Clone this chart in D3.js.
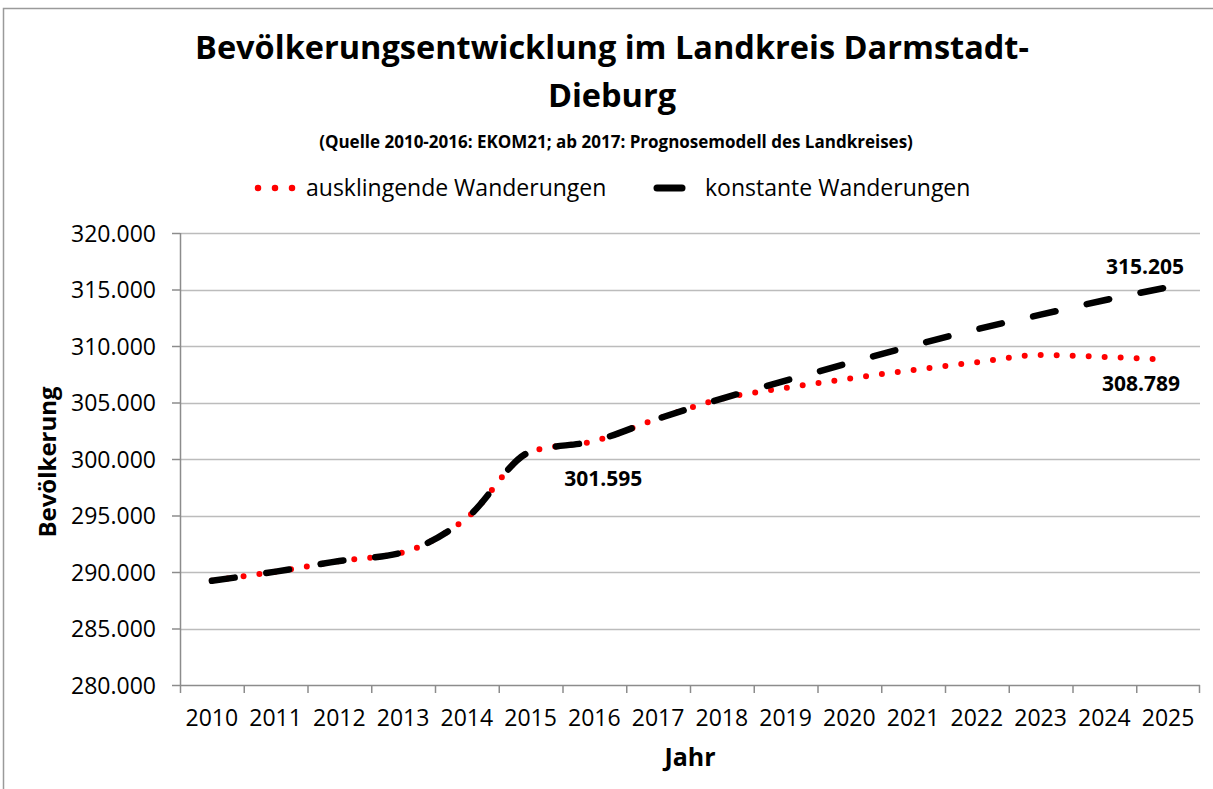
<!DOCTYPE html>
<html>
<head>
<meta charset="utf-8">
<script src="https://cdnjs.cloudflare.com/ajax/libs/d3/7.8.5/d3.min.js"></script>
<style>
  body { margin: 0; background: #fff; }
  svg { display: block; }
  text { font-family: "Open Sans", sans-serif; fill: #000; }
</style>
</head>
<body>
<div id="viz"></div>
<script>
// data
var years = ["2010","2011","2012","2013","2014","2015","2016","2017","2018","2019","2020","2021","2022","2023","2024","2025"];
var konstante = [289230, 290030, 290970, 291740, 294800, 300650, 301595, 303570, 305340, 306930, 308500, 310030, 311480, 312770, 314050, 315205];
var ausklingend = [289230, 290030, 290970, 291740, 294800, 300650, 301595, 303570, 305340, 306290, 307110, 307880, 308560, 309200, 309030, 308789];
var yTicks = [280000, 285000, 290000, 295000, 300000, 305000, 310000, 315000, 320000];
var seriesNames = ["ausklingende Wanderungen", "konstante Wanderungen"];

var W = 1213, H = 789;
var margin = {top: 233, right: 13, bottom: 104, left: 180},
    width = W - margin.left - margin.right,
    height = H - margin.top - margin.bottom;

var de = d3.formatLocale({decimal: ",", thousands: ".", grouping: [3], currency: ["", " €"]});
var fmt = de.format(",d");

var svg = d3.select("#viz").append("svg").attr("width", W).attr("height", H);

// chart border
svg.append("rect")
    .attr("x", 3.5).attr("y", 8.5)
    .attr("width", W + 10).attr("height", H + 10)
    .style("fill", "none").style("stroke", "#9a9a9a").style("stroke-width", 1.5);

// title
svg.append("text").attr("x", 612).attr("y", 59)
    .style("font-size", "32.5px").style("font-weight", "bold").style("text-anchor", "middle")
    .text("Bevölkerungsentwicklung im Landkreis Darmstadt-");
svg.append("text").attr("x", 612).attr("y", 107)
    .style("font-size", "32.5px").style("font-weight", "bold").style("text-anchor", "middle")
    .text("Dieburg");
svg.append("text").attr("x", 616).attr("y", 148)
    .style("font-size", "17px").style("font-weight", "bold").style("text-anchor", "middle")
    .text("(Quelle 2010-2016: EKOM21; ab 2017: Prognosemodell des Landkreises)");

var x = d3.scaleBand().domain(years).range([0, width]).padding(0);
var y = d3.scaleLinear().domain([280000, 320000]).range([height, 0]);
var cx = function(d, i) { return x(years[i]) + x.bandwidth() / 2; };

var g = svg.append("g").attr("transform", "translate(" + margin.left + "," + margin.top + ")");

// gridlines
g.append("g").selectAll("line").data(yTicks.slice(1)).enter().append("line")
    .attr("x1", 0).attr("x2", width)
    .attr("y1", function(d) { return Math.round(y(d)) + 0.5; })
    .attr("y2", function(d) { return Math.round(y(d)) + 0.5; })
    .style("stroke", "#bcbcbc").style("stroke-width", 1.5);

// y axis
var yAxis = d3.axisLeft(y).tickValues(yTicks).tickFormat(fmt).tickSize(8).tickPadding(16);
var ya = g.append("g").attr("class", "axis").call(yAxis);
ya.select(".domain").style("stroke", "#8c8c8c").style("stroke-width", 1.5).attr("d", "M0.5," + height + "V0");
ya.selectAll(".tick line").style("stroke", "#8c8c8c").style("stroke-width", 1.5);
ya.selectAll(".tick text").style("font-size", "23px").style("font-family", "'Open Sans', sans-serif").attr("dy", "0.36em");

// x axis: ticks between categories
var xa = g.append("g").attr("transform", "translate(0," + height + ")");
xa.append("line").attr("x1", 0).attr("x2", width).attr("y1", 0.5).attr("y2", 0.5)
    .style("stroke", "#8c8c8c").style("stroke-width", 1.5);
xa.selectAll(".tk").data(years.concat(["end"])).enter().append("line")
    .attr("x1", function(d, i) { return i < years.length ? x(d) + 0.5 : width - 0.5; })
    .attr("x2", function(d, i) { return i < years.length ? x(d) + 0.5 : width - 0.5; })
    .attr("y1", 0).attr("y2", 8)
    .style("stroke", "#8c8c8c").style("stroke-width", 1.5);
xa.selectAll(".lbl").data(years).enter().append("text")
    .attr("x", function(d) { return x(d) + x.bandwidth() / 2; })
    .attr("y", 41)
    .style("font-size", "23px").style("text-anchor", "middle")
    .text(function(d) { return d; });

// axis titles
svg.append("text").attr("x", 690).attr("y", 766)
    .style("font-size", "25px").style("font-weight", "bold").style("text-anchor", "middle")
    .text("Jahr");
svg.append("text").attr("transform", "translate(56,462) rotate(-90)")
    .style("font-size", "24px").style("font-weight", "bold").style("text-anchor", "middle")
    .text("Bevölkerung");

var line = d3.line()
    .x(cx)
    .y(function(d) { return y(d); })
    .curve(d3.curveMonotoneX);

// ausklingende Wanderungen (red dots)
g.append("path").datum(ausklingend)
    .attr("d", line)
    .style("fill", "none").style("stroke", "#ff0000").style("stroke-width", 6)
    .style("stroke-linecap", "round").style("stroke-dasharray", "0,16");

// konstante Wanderungen (black dashes)
g.append("path").datum(konstante)
    .attr("d", line)
    .style("fill", "none").style("stroke", "#000").style("stroke-width", 6.5)
    .style("stroke-linecap", "round").style("stroke-dasharray", "23,32");

// data labels
var last = years.length - 1;
g.append("text")
    .attr("x", cx(null, 6) + 9).attr("y", y(konstante[6]) + 45)
    .style("font-size", "21px").style("font-weight", "bold").style("text-anchor", "middle")
    .text(fmt(konstante[6]));
g.append("text")
    .attr("x", cx(null, last) - 23).attr("y", y(konstante[last]) - 13)
    .style("font-size", "21px").style("font-weight", "bold").style("text-anchor", "middle")
    .text(fmt(konstante[last]));
g.append("text")
    .attr("x", cx(null, last) - 27).attr("y", y(ausklingend[last]) + 31)
    .style("font-size", "21px").style("font-weight", "bold").style("text-anchor", "middle")
    .text(fmt(ausklingend[last]));

// legend
var lg = svg.append("g").attr("transform", "translate(0,188)");
lg.append("line").attr("x1", 258).attr("x2", 292.5).attr("y1", 0).attr("y2", 0)
    .style("stroke", "#ff0000").style("stroke-width", 6.5).style("stroke-linecap", "round")
    .style("stroke-dasharray", "0,17");
lg.append("text").attr("x", 306).attr("y", 8).style("font-size", "23px").text(seriesNames[0]);
lg.append("line").attr("x1", 657).attr("x2", 682).attr("y1", 0).attr("y2", 0)
    .style("stroke", "#000").style("stroke-width", 7).style("stroke-linecap", "round");
lg.append("text").attr("x", 705).attr("y", 8).style("font-size", "23px").text(seriesNames[1]);
</script>
</body>
</html>
